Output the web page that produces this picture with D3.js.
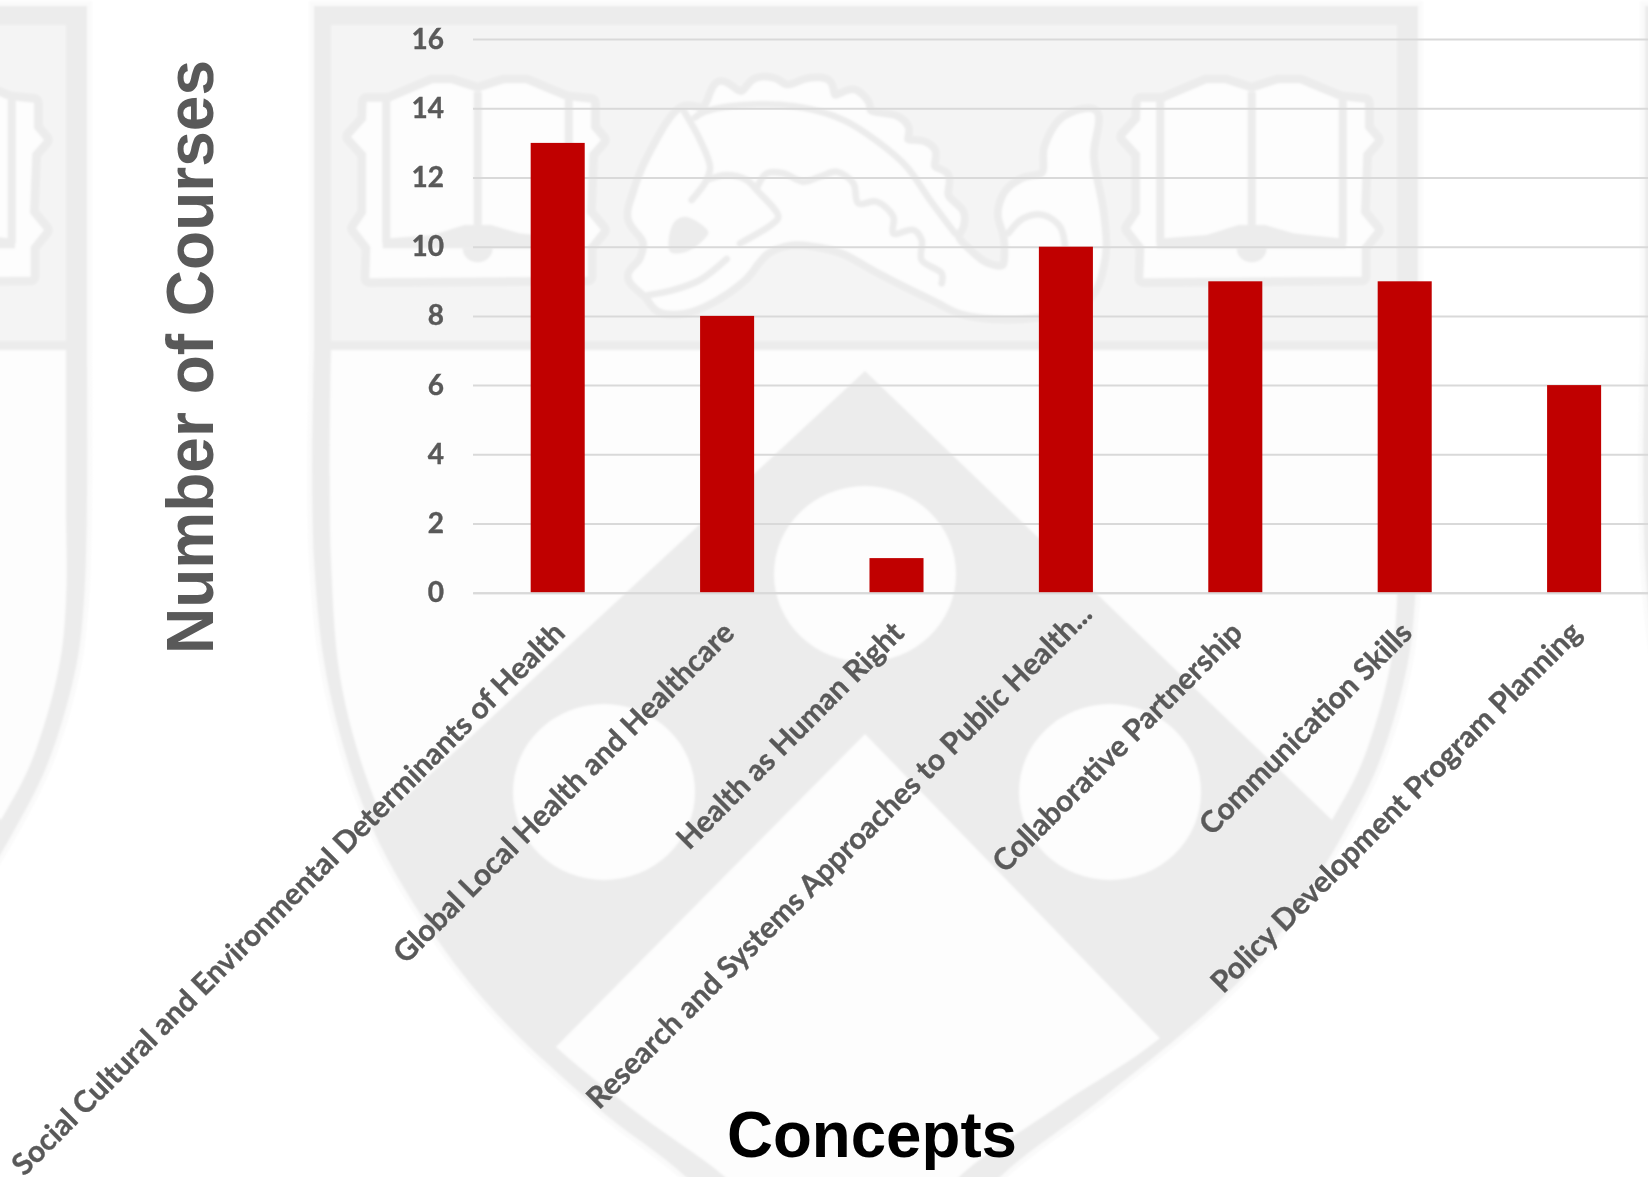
<!DOCTYPE html>
<html>
<head>
<meta charset="utf-8">
<title>Number of Courses by Concept</title>
<script src="https://cdnjs.cloudflare.com/ajax/libs/d3/7.8.5/d3.min.js"></script>
<style>
  html, body { margin: 0; padding: 0; background: #fff; }
  svg { display: block; }
  .tick-y text { font-family: Lato, Carlito, sans-serif; font-weight: 700; font-size: 28px; fill: #595959; stroke: #595959; stroke-width: 0.4px; }
  .tick-x text { font-family: Lato, Carlito, sans-serif; font-weight: 700; font-size: 29.9px; fill: #595959; stroke: #595959; stroke-width: 0.35px; }
  .axis-title { font-family: "Liberation Sans", Arial, sans-serif; font-weight: 700; }
</style>
</head>
<body>
<svg id="chart" width="1648" height="1177"></svg>
<script>
// Course counts per public-health concept
const categories = [
  "Social Cultural and Environmental Determinants of Health",
  "Global Local Health and Healthcare",
  "Health as Human Right",
  "Research and Systems Approaches to Public Health...",
  "Collaborative Partnership",
  "Communication Skills",
  "Policy Development Program Planning"
];
const courseCounts = [13, 8, 1, 10, 9, 9, 6];
const yTickValues = [0, 2, 4, 6, 8, 10, 12, 14, 16];

const svg = d3.select("#chart");
const defs = svg.append("defs");
defs.append("filter").attr("id", "soft")
  .attr("x", "-2%").attr("y", "-2%").attr("width", "104%").attr("height", "104%")
  .append("feGaussianBlur").attr("stdDeviation", 0.8);

// Shield emblem behind the chart, repeated sideways as a wallpaper
const BAND = "#ececec", CHIEF = "#f4f4f4", PALE = "#fdfdfd", HALO = "#fafafa";
const smoothClosed = d3.line().curve(d3.curveCatmullRomClosed.alpha(0.5));
const smoothOpen = d3.line().curve(d3.curveCatmullRom.alpha(0.5));
const straight = d3.line();

// The sides of the shield: from the top-right corner down and round to the top-left
const shieldOuter = [[1418,350],[1418,500],[1415,600],[1407,667],[1380,760],[1347,827],[1277,937],[1220,1000],
  [1100,1100],[1000,1177],[950,1240],[740,1240],[686,1177],[600,1110],[500,1017],[440,943],[372,827],[330,693],[314,560],[314,350]];
const shieldInner = [[1397,350],[1397,500],[1397,600],[1390,667],[1363,760],[1332,820],[1262,935],[1160,1038],[1060,1105],
  [959,1177],[930,1215],[760,1215],[725,1177],[640,1115],[556,1047],[452,944],[383,820],[343,693],[331,560],[331,350]];
// Chevron arms run on past the shield rim and are trimmed by the clip
const chevron = [[865,371],[1362,849],[1450,1110],[1180,1059],[865,734],[536,1067],[280,1110],[353,846]];
const roundels = [[865,574],[604,792],[1110,792]];

const bookOutline = [[122,155],[190,155],[260,125],[320,100],[375,100],[455,125],[535,100],[600,100],[660,125],[720,150],[795,158],
  [795,235],[825,270],[790,310],[783,490],[825,540],[785,590],[785,680],[130,685],[133,590],[90,535],[120,490],[120,310],[75,260],[120,210]];
const bookBase = [[170,595],[170,565],[192,565],[320,555],[415,525],[495,525],[580,550],[718,565],[738,565],[738,595]];
const bookStripes = [[[181,150],[181,580]],[[728,150],[728,580]],[[455,125],[455,530]]];

const dragonOutline = [[220,150],[285,150],[330,75],[395,105],[440,65],[490,65],[530,85],[600,65],[650,70],[670,115],[730,100],[765,130],
  [775,160],[860,180],[885,205],[885,245],[940,255],[965,275],[965,325],[1005,350],[1005,410],[1050,460],[1050,495],[1035,530],
  [1075,580],[1130,620],[1185,625],[1195,560],[1190,520],[1175,460],[1195,400],[1240,365],[1305,345],[1315,260],[1365,180],[1450,160],
  [1440,290],[1470,460],[1475,590],[1430,710],[1280,762],[1070,755],[970,710],[810,630],[700,570],[620,550],[540,545],[470,570],
  [440,600],[400,650],[300,720],[220,750],[150,745],[115,705],[65,650],[100,600],[110,545],[65,475],[80,400],[130,280]];
const dragonStrokes = [
  [[255,172],[285,155],[400,135],[560,140],[700,180],[810,250],[890,320],[960,420],[1035,520]],
  [[220,150],[270,240],[300,320],[290,360],[245,420]],
  [[290,360],[350,345],[410,360],[440,390],[505,470],[490,490],[390,550]],
  [[440,385],[470,340],[520,340],[580,365],[630,350],[680,335],[730,370],[745,430],[800,425],[850,470],[850,520],[910,510],[935,540],[935,600],[995,640],[995,670]],
  [[350,597],[270,660],[190,690],[115,705]],
  [[1195,520],[1240,475],[1300,465],[1350,500],[1365,560]]
];
const dragonEye = [[190,490],[225,470],[295,515],[280,540],[230,575],[180,575]];

// Square top edge joined to the curved sides
const shieldPath = (sides, left, top, right) =>
  `M${left},${top}L${right},${top}L` + smoothOpen(sides).slice(1) + "Z";

defs.append("clipPath").attr("id", "shield-clip")
  .append("path").attr("d", shieldPath(shieldOuter, 314, 6, 1418));

const emblem = defs.append("g").attr("id", "emblem");
emblem.append("path").attr("d", shieldPath(shieldOuter, 314, 6, 1418))
  .attr("fill", BAND).attr("stroke", HALO).attr("stroke-width", 10).attr("paint-order", "stroke");
emblem.append("path").attr("d", shieldPath(shieldInner, 331, 350, 1397)).attr("fill", PALE);
emblem.append("rect").attr("x", 331).attr("y", 25).attr("width", 1066).attr("height", 316).attr("fill", CHIEF);
emblem.append("path").attr("d", straight(chevron) + "Z").attr("fill", BAND).attr("clip-path", "url(#shield-clip)");
emblem.selectAll("ellipse").data(roundels).join("ellipse")
  .attr("cx", d => d[0]).attr("cy", d => d[1]).attr("rx", 91).attr("ry", 88).attr("fill", PALE);

// Two open books, left and right of the dolphin
[1100, 326].forEach(dx => {
  const book = emblem.append("g").attr("transform", `translate(${dx},50) scale(${1/3})`);
  book.append("path").attr("d", straight(bookOutline) + "Z")
    .attr("fill", PALE).attr("stroke", BAND).attr("stroke-width", 52)
    .attr("stroke-linejoin", "round").attr("paint-order", "stroke");
  bookStripes.forEach(s => book.append("path").attr("d", straight(s)).attr("stroke", BAND).attr("stroke-width", 24));
  book.append("path").attr("d", straight(bookBase) + "Z").attr("fill", BAND);
  book.append("path").attr("d", "M410,595 A45,42 0 0 0 500,595 Z").attr("fill", BAND);
});

// Dolphin
const dolphin = emblem.append("g").attr("transform", `translate(610,60) scale(${1/3})`);
dolphin.append("path").attr("d", smoothClosed(dragonOutline))
  .attr("fill", PALE).attr("stroke", BAND).attr("stroke-width", 46)
  .attr("stroke-linejoin", "round").attr("paint-order", "stroke");
dragonStrokes.forEach(s => dolphin.append("path").attr("d", smoothOpen(s))
  .attr("fill", "none").attr("stroke", BAND).attr("stroke-width", 20).attr("stroke-linecap", "round"));
dolphin.append("path").attr("d", smoothClosed(dragonEye)).attr("fill", BAND);

const wallpaper = svg.append("g").attr("filter", "url(#soft)");
[-1331, 0, 1331].forEach(dx => wallpaper.append("use").attr("href", "#emblem").attr("x", dx));

// Scales
const x = d3.scaleBand().domain(categories).range([473, 1658.8]).paddingInner(0.681).paddingOuter(0.3405);
const y = d3.scaleLinear().domain([0, 16]).range([592.7, 39.1]);

// Value axis: tick lines double as gridlines
const yAxis = svg.append("g").attr("class", "tick-y").attr("transform", "translate(473,0)")
  .call(d3.axisLeft(y).tickValues(yTickValues).tickSize(-1185.8).tickPadding(29));
yAxis.select(".domain").remove();
yAxis.selectAll("line").attr("stroke", "#d9d9d9").attr("stroke-width", 2);

// Bars
svg.append("g").selectAll("rect").data(courseCounts).join("rect")
  .attr("x", (d, i) => x(categories[i]))
  .attr("y", d => y(d))
  .attr("width", x.bandwidth())
  .attr("height", d => y(0) - y(d))
  .attr("fill", "#c00000");

// Category axis sits on top of the bar feet; a truncated label reaches further up its slope
const xAxis = svg.append("g").attr("class", "tick-x").attr("transform", `translate(0,${y(0)})`)
  .call(d3.axisBottom(x).tickSize(0));
xAxis.select(".domain").attr("stroke", "#d9d9d9").attr("stroke-width", 2);
xAxis.selectAll("text")
  .attr("x", 0).attr("y", 0).attr("dy", 0)
  .attr("text-anchor", "end")
  .attr("transform", d => {
    const lift = d.endsWith("...") ? 19 : 0;
    return `translate(${9 + lift},${42 - lift}) rotate(-45)`;
  });

// Axis titles
svg.append("text").attr("class", "axis-title")
  .attr("transform", "translate(213,654) rotate(-90)")
  .attr("font-size", 66).attr("fill", "#595959")
  .attr("textLength", 594).attr("lengthAdjust", "spacingAndGlyphs")
  .text("Number of Courses");
svg.append("text").attr("class", "axis-title")
  .attr("x", 727).attr("y", 1157)
  .attr("font-size", 65).attr("fill", "#000")
  .attr("textLength", 290).attr("lengthAdjust", "spacingAndGlyphs")
  .text("Concepts");
</script>
</body>
</html>
